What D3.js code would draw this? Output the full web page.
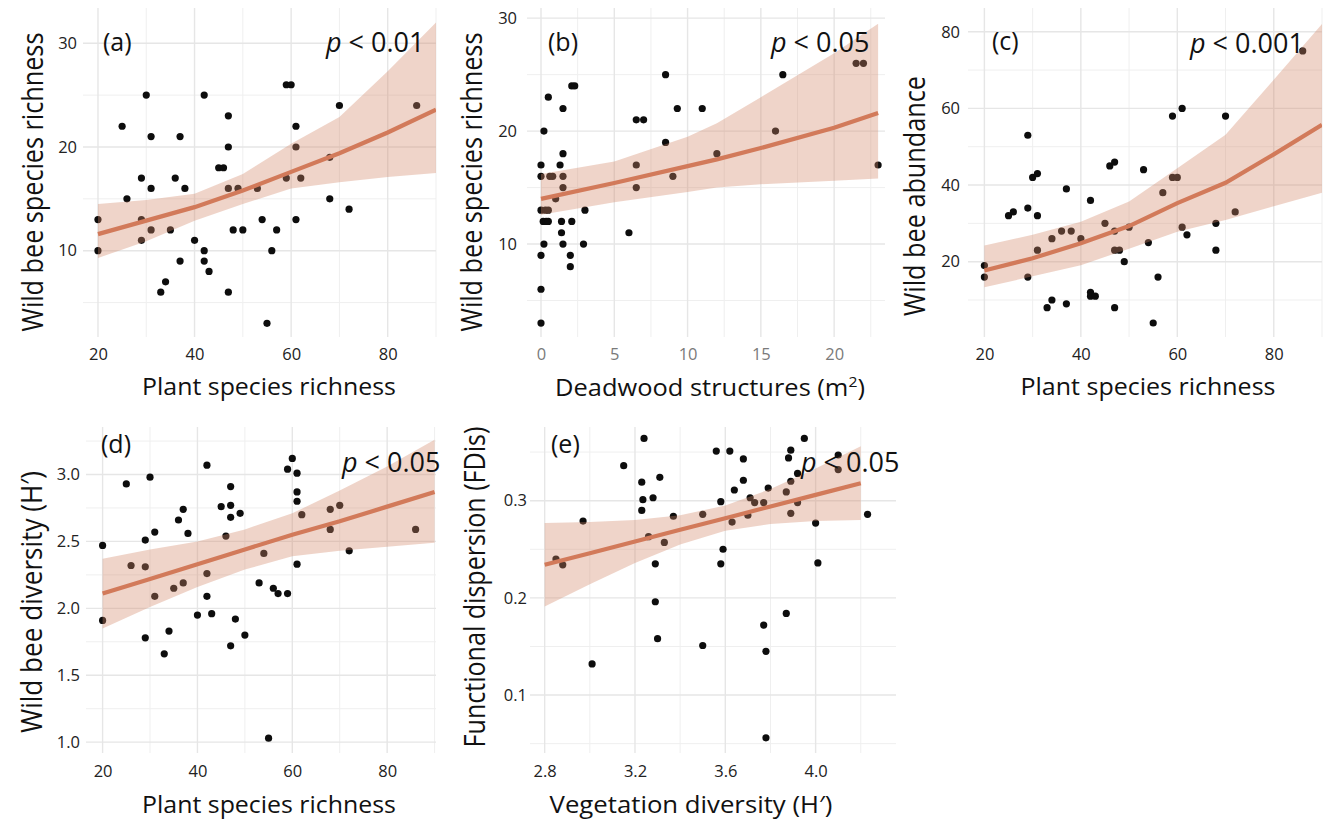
<!DOCTYPE html>
<html>
<head>
<meta charset="utf-8">
<script src="https://cdn.jsdelivr.net/npm/d3@7"></script>
<style>
  body { margin: 0; background: #fff; }
  text { font-family: "Open Sans", "Noto Sans", sans-serif; }
</style>
</head>
<body>
<div id="wrapper"></div>
<script>
// ---- panel (a): plant richness vs bee richness
const aPlant = [25,30,31,37,42,47,47,45,46,29,36,31,38,47,49,53,59,60,70,86,61,61,68,59,62,26,68,72,20,29,54,61,31,35,48,50,57,29,40,20,42,56,37,42,43,34,33,47,55];
const aBees  = [22,25,21,21,25,23,20,18,18,17,17,16,16,16,16,16,26,26,24,24,22,20,19,17,17,15,15,14,13,13,13,13,12,12,12,12,12,11,11,10,10,10,9,9,8,7,6,6,3];
const aFitX = [20,30,40,50,60,70,80,90];
const aFit  = [11.6,12.9,14.2,15.8,17.6,19.4,21.4,23.6];
const aHi   = [14.5,14.9,15.5,17.4,20.3,22.9,27.3,32.0];
const aLo   = [9.3,10.9,12.9,14.5,16.0,16.6,17.1,17.5];

// ---- panel (b): deadwood vs bee richness
const bWood = [0,1.3,0,0.6,0.8,1.5,1.5,1.5,1.5,0.2,0.5,2.1,2.3,6.5,6.5,6.5,7,8.5,8.5,9,9.3,11,12,16,16.5,21.5,22,23,1,0,0.3,0.5,3,0.15,0.35,0.5,1.4,2.1,1.4,6,0.2,1.5,2.9,0,2,2,0,0];
const bBees = [17,17,16,16,16,16,15,18,22,20,23,24,24,17,15,21,21,25,19,16,22,22,18,20,25,26,26,17,14,13,13,13,13,12,12,12,12,12,11,11,10,10,10,9,9,8,6,3];
const bFitX = [0,5,10,12,15,20,23];
const bFit  = [14.0,15.4,16.9,17.5,18.5,20.3,21.6];
const bHi   = [16.2,17.3,19.5,20.7,23.0,26.9,29.5];
const bLo   = [12.6,13.7,14.6,15.0,15.3,15.6,15.8];

// ---- panel (c): plant richness vs bee abundance
const cPlant = [29,30,31,37,42,46,47,53,57,59,60,59,61,70,86,25,26,29,31,45,34,36,38,40,31,47,47,48,50,49,54,61,62,68,68,72,20,20,29,56,42,42,43,34,33,37,47,55];
const cAbund = [53,42,43,39,36,45,46,44,38,42,42,58,60,58,75,32,33,34,32,30,26,28,28,26,23,28,23,23,29,20,25,29,27,30,23,33,19,16,16,16,12,11,11,10,8,9,8,4];
const cFitX = [20,30,40,50,60,70,80,90];
const cFit  = [17.7,20.9,24.8,29.3,35.3,40.6,48.0,55.7];
const cHi   = [24.2,27.0,30.4,35.7,44.4,53.1,67.5,82.0];
const cLo   = [13.3,16.2,19.1,23.4,27.8,30.9,34.5,38.0];

// ---- panel (d): plant richness vs bee diversity
const dPlant = [20,25,30,26,29,29,31,31,36,37,38,35,37,42,42,42,45,47,47,47,49,46,54,53,56,57,59,60,59,61,61,61,62,61,68,68,70,72,86,20,29,33,34,40,43,48,47,50,55];
const dDiv   = [2.47,2.93,2.98,2.32,2.31,2.51,2.57,2.09,2.66,2.74,2.56,2.15,2.19,3.07,2.26,2.09,2.76,2.91,2.77,2.68,2.71,2.54,2.41,2.19,2.15,2.11,2.11,3.12,3.04,3.01,2.87,2.80,2.70,2.33,2.74,2.59,2.77,2.43,2.59,1.91,1.78,1.66,1.83,1.95,1.96,1.92,1.72,1.80,1.03];
const dFitX = [20,30,40,50,60,70,80,90];
const dFit  = [2.11,2.22,2.33,2.44,2.55,2.65,2.76,2.87];
const dHi   = [2.37,2.44,2.50,2.59,2.71,2.88,3.06,3.26];
const dLo   = [1.85,2.01,2.16,2.29,2.39,2.43,2.46,2.49];

// ---- panel (e): vegetation diversity vs functional dispersion
const eVeg  = [3.24,3.15,2.97,2.85,2.88,3.23,3.31,3.235,3.28,3.23,3.26,3.33,3.29,3.37,3.50,3.56,3.62,3.68,3.68,3.64,3.58,3.63,3.59,3.58,3.71,3.73,3.70,3.77,3.79,3.87,3.89,3.89,3.88,3.92,3.95,3.92,3.89,4.00,4.01,4.10,4.10,4.23,3.29,3.87,3.77,3.30,3.50,3.78,3.01,3.78];
const eFdis = [0.364,0.336,0.279,0.240,0.234,0.319,0.324,0.301,0.303,0.290,0.263,0.257,0.235,0.284,0.286,0.351,0.351,0.343,0.321,0.311,0.299,0.278,0.250,0.235,0.303,0.298,0.285,0.298,0.313,0.309,0.320,0.352,0.344,0.328,0.364,0.298,0.287,0.277,0.236,0.347,0.332,0.286,0.196,0.184,0.172,0.158,0.151,0.145,0.132,0.056];
const eFitX = [2.8,3.0,3.2,3.4,3.6,3.8,4.0,4.2];
const eFit  = [0.234,0.246,0.258,0.270,0.282,0.294,0.306,0.318];
const eHi   = [0.277,0.278,0.280,0.285,0.295,0.312,0.333,0.356];
const eLo   = [0.191,0.214,0.236,0.255,0.269,0.276,0.279,0.280];

// tick labels
const xTicksPlant = [20,40,60,80];
const xTicksWood = [0,5,10,15,20];
const xTicksVeg = [2.8,3.2,3.6,4.0];
const yTicksRich = [10,20,30];
const yTicksAbund = [20,40,60,80];
const yTicksDiv = [1.0,1.5,2.0,2.5,3.0];
const yTicksFdis = [0.1,0.2,0.3];

const panels = [
  { tag: "(a)", p: "0.01", xs: aPlant, ys: aBees, fx: aFitX, fy: aFit, hi: aHi, lo: aLo,
    box: [83, 436, 8, 337], xDom: [16.9, 90], yDom: [1.68, 33.4],
    xt: xTicksPlant, xm: [30,50,70,90], yt: yTicksRich, ym: [5,15,25], fmt: d3.format("d"), yfmt: d3.format("d"),
    yPad: 6, tagPos: [103, 51], pPos: [326, 52],
    xTitle: { text: "Plant species richness", x: 269, y: 395, w: 254 },
    yTitle: { text: "Wild bee species richness", x: 43, y: 182, w: 299 } },
  { tag: "(b)", p: "0.05", xs: bWood, ys: bBees, fx: bFitX, fy: bFit, hi: bHi, lo: bLo,
    box: [527, 885, 8, 337], xDom: [-0.955, 23.47], yDom: [1.77, 30.9],
    xt: xTicksWood, xm: [2.5,7.5,12.5,17.5,22.5], yt: yTicksRich, ym: [5,15,25], fmt: d3.format("d"), yfmt: d3.format("d"),
    yPad: 10, xColor: "#7a7a7a", tagPos: [548, 51], pPos: [771, 52],
    xTitle: { text: "Deadwood structures (m", sup: "2", tail: ")", x: 710, y: 396, w: 310 },
    yTitle: { text: "Wild bee species richness", x: 482, y: 182, w: 299 } },
  { tag: "(c)", p: "0.001", xs: cPlant, ys: cAbund, fx: cFitX, fy: cFit, hi: cHi, lo: cLo,
    box: [968, 1322, 8, 337], xDom: [16.6, 90], yDom: [0.35, 86.2],
    xt: xTicksPlant, xm: [30,50,70,90], yt: yTicksAbund, ym: [10,30,50,70], fmt: d3.format("d"), yfmt: d3.format("d"),
    yPad: 8, tagPos: [992, 50], pPos: [1190, 53],
    xTitle: { text: "Plant species richness", x: 1148, y: 395, w: 255 },
    yTitle: { text: "Wild bee abundance", x: 925, y: 196, w: 240 } },
  { tag: "(d)", p: "0.05", xs: dPlant, ys: dDiv, fx: dFitX, fy: dFit, hi: dHi, lo: dLo,
    box: [86, 436, 427, 753], xDom: [16.5, 90.3], yDom: [0.919, 3.355],
    xt: xTicksPlant, xm: [30,50,70,90], yt: yTicksDiv, ym: [1.25,1.75,2.25,2.75,3.25], fmt: d3.format("d"), yfmt: d3.format(".1f"),
    yPad: 6, tagPos: [101, 453], pPos: [342, 472],
    xTitle: { text: "Plant species richness", x: 269, y: 813, w: 254 },
    yTitle: { text: "Wild bee diversity (H\u2032)", x: 42, y: 602, w: 262 } },
  { tag: "(e)", p: "0.05", xs: eVeg, ys: eFdis, fx: eFitX, fy: eFit, hi: eHi, lo: eLo,
    box: [530, 896, 427, 753], xDom: [2.735, 4.356], yDom: [0.0404, 0.3758],
    xt: xTicksVeg, xm: [3.0,3.4,3.8,4.2], yt: yTicksFdis, ym: [0.05,0.15,0.25,0.35], fmt: d3.format(".1f"), yfmt: d3.format(".1f"),
    yPad: 3, tagPos: [551, 453], pPos: [801, 472],
    xTitle: { text: "Vegetation diversity (H\u2032)", x: 691, y: 813, w: 283 },
    yTitle: { text: "Functional dispersion (FDis)", x: 485, y: 587, w: 321 } }
];

const svg = d3.select("#wrapper").append("svg")
  .attr("width", 1341)
  .attr("height", 821);

svg.append("rect").attr("width", 1341).attr("height", 821).attr("fill", "#fff");

function fitTitle(t, rotate, size) {
  const g = svg.append("g")
    .attr("transform", `translate(${t.x},${t.y}) rotate(${rotate})`);
  const txt = g.append("text")
    .attr("text-anchor", "middle")
    .attr("font-size", size)
    .attr("fill", "#111")
    .text(t.text);
  if (t.sup) {
    txt.append("tspan").attr("dy", -9).attr("font-size", size * 0.62).text(t.sup);
    txt.append("tspan").attr("dy", 9).text(t.tail);
  }
  const natural = txt.node().getComputedTextLength();
  txt.attr("transform", `scale(${t.w / natural},1)`);
}

panels.forEach((cfg, i) => {
  const [left, right, top, bottom] = cfg.box;
  const x = d3.scaleLinear().domain(cfg.xDom).range([left, right]);
  const y = d3.scaleLinear().domain(cfg.yDom).range([bottom, top]);

  const grid = svg.append("g");
  grid.selectAll(".vmin").data(cfg.xm).join("line")
    .attr("x1", d => x(d)).attr("x2", d => x(d)).attr("y1", top).attr("y2", bottom)
    .attr("stroke", "#efefef").attr("stroke-width", 1);
  grid.selectAll(".hmin").data(cfg.ym).join("line")
    .attr("x1", left).attr("x2", right).attr("y1", d => y(d)).attr("y2", d => y(d))
    .attr("stroke", "#efefef").attr("stroke-width", 1);
  grid.selectAll(".vmaj").data(cfg.xt).join("line")
    .attr("x1", d => x(d)).attr("x2", d => x(d)).attr("y1", top).attr("y2", bottom)
    .attr("stroke", "#e6e6e6").attr("stroke-width", 1.4);
  grid.selectAll(".hmaj").data(cfg.yt).join("line")
    .attr("x1", left).attr("x2", right).attr("y1", d => y(d)).attr("y2", d => y(d))
    .attr("stroke", "#e6e6e6").attr("stroke-width", 1.4);

  // axes
  const xAxis = svg.append("g")
    .attr("transform", `translate(0,${bottom})`)
    .call(d3.axisBottom(x).tickValues(cfg.xt).tickFormat(cfg.fmt).tickSize(0).tickPadding(i < 3 ? 11 : 12));
  xAxis.select(".domain").remove();
  xAxis.selectAll("text").attr("font-size", 16.5).attr("font-family", "Open Sans")
    .attr("fill", cfg.xColor || "#222");

  const yAxis = svg.append("g")
    .attr("transform", `translate(${left},0)`)
    .call(d3.axisLeft(y).tickValues(cfg.yt).tickFormat(cfg.yfmt).tickSize(0).tickPadding(cfg.yPad));
  yAxis.select(".domain").remove();
  yAxis.selectAll("text").attr("font-size", 16.5).attr("font-family", "Open Sans").attr("fill", "#222");

  const clipId = "clip" + i;
  svg.append("clipPath").attr("id", clipId).append("rect")
    .attr("x", left).attr("y", top).attr("width", right - left).attr("height", bottom - top + 6);

  const plot = svg.append("g").attr("clip-path", `url(#${clipId})`);

  const pts = cfg.xs.map((v, k) => [v, cfg.ys[k]]);
  plot.selectAll("circle").data(pts).join("circle")
    .attr("cx", d => x(d[0]))
    .attr("cy", d => y(d[1]))
    .attr("r", 3.6)
    .attr("fill", "#0d0d0d");

  const band = cfg.fx.map((v, k) => ({ x: v, lo: cfg.lo[k], hi: cfg.hi[k], f: cfg.fy[k] }));
  const area = d3.area().x(d => x(d.x)).y0(d => y(d.lo)).y1(d => y(d.hi));
  plot.append("path").attr("d", area(band))
    .attr("fill", "#d4896a").attr("opacity", 0.36);

  const line = d3.line().x(d => x(d.x)).y(d => y(d.f));
  plot.append("path").attr("d", line(band))
    .attr("fill", "none").attr("stroke", "#d27a5a").attr("stroke-width", 4.2);

  // labels
  svg.append("text").attr("x", cfg.tagPos[0]).attr("y", cfg.tagPos[1])
    .attr("font-family", "Liberation Sans").attr("font-size", 25).attr("fill", "#111")
    .text(cfg.tag);

  const pt = svg.append("text").attr("x", cfg.pPos[0]).attr("y", cfg.pPos[1])
    .attr("font-family", "Liberation Sans").attr("font-size", 27).attr("fill", "#111");
  pt.append("tspan").attr("font-style", "italic").text("p");
  pt.append("tspan").text(" < " + cfg.p);

  fitTitle(cfg.xTitle, 0, 24);
  fitTitle(cfg.yTitle, -90, 29);
});
</script>
</body>
</html>
